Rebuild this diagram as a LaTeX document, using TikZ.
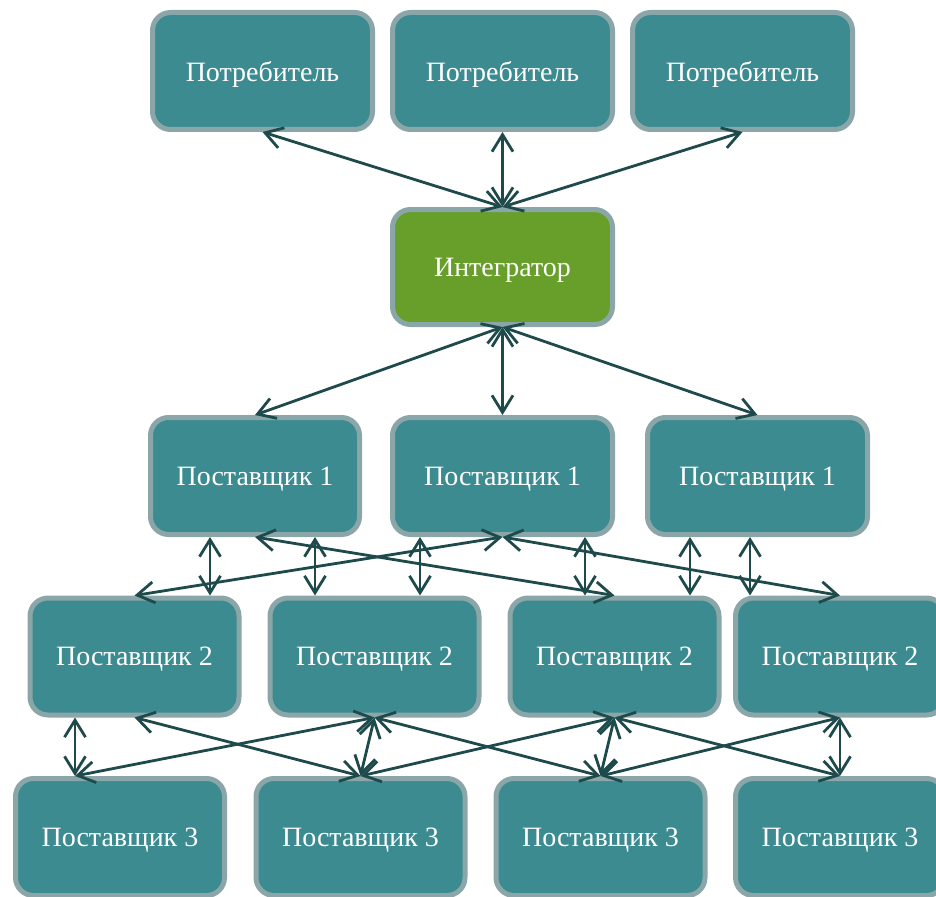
\documentclass[tikz,border=0pt]{standalone}
\usepackage{fontspec}
\setmainfont{Liberation Serif}
\usetikzlibrary{arrows.meta}
\definecolor{boxfill}{HTML}{3C8B91}
\definecolor{boxline}{HTML}{8AA6A8}
\definecolor{intfill}{HTML}{689F2B}
\definecolor{linkcol}{HTML}{1E4A4C}

\begin{document}
\begin{tikzpicture}[x=1pt, y=-1pt,
	box/.style={draw=boxline, fill=boxfill, line width=5pt, rounded corners=18pt,
		minimum height=117pt, text depth=0pt, text=white, font=\fontsize{28}{32}\selectfont},
	wide/.style={box, minimum width=220pt},
	narrow/.style={box, minimum width=209pt},
	link/.style={draw=linkcol, line width=2.8pt,
		{Straight Barb[length=17pt,width=21pt]}-{Straight Barb[length=17pt,width=21pt]}}]
 \useasboundingbox (0,0) rectangle (936,896);
 \clip (0,0) rectangle (936,896);

 \node[wide] (cons1) at (262.5,71) {Потребитель};
 \node[wide] (cons2) at (502.5,71) {Потребитель};
 \node[wide] (cons3) at (742.5,71) {Потребитель};

 \node[wide, fill=intfill, minimum height=115pt] (integ) at (502.5,267) {Интегратор};

 \node[narrow] (sup1a) at (255,476) {Поставщик 1};
 \node[wide] (sup1b) at (502.5,476) {Поставщик 1};
 \node[wide] (sup1c) at (757.5,476) {Поставщик 1};

 \node[narrow] (sup2a) at (134.5,656.5) {Поставщик 2};
 \node[narrow] (sup2b) at (374.5,656.5) {Поставщик 2};
 \node[narrow] (sup2c) at (614.5,656.5) {Поставщик 2};
 \node[narrow] (sup2d) at (840,656.5) {Поставщик 2};

 \node[narrow] (sup3a) at (120,837) {Поставщик 3};
 \node[narrow] (sup3b) at (360.5,837) {Поставщик 3};
 \node[narrow] (sup3c) at (600.5,837) {Поставщик 3};
 \node[narrow] (sup3d) at (840,837) {Поставщик 3};
 \coordinate (sup3a-top) at ([xshift=-45pt]sup3a.north);

 \foreach \a in {cons1,cons2,cons3}
	\draw[link] (\a.south) -- (integ.north);
 \foreach \a in {sup1a,sup1b,sup1c}
	\draw[link] (integ.south) -- (\a.north);

 \foreach \a/\b in {sup1a/sup2c, sup1b/sup2a, sup1b/sup2d}
	\draw[link] (\a.south) -- (\b.north);
 \foreach \x/\a/\b in {210/sup1a/sup2a, 315/sup1a/sup2b, 420/sup1b/sup2b,
	585/sup1b/sup2c, 690/sup1c/sup2c, 750/sup1c/sup2d}
	\draw[link] (\x,0 |- \a.south) -- (\x,0 |- \b.north);

 \draw[link] (sup2a.south -| sup3a-top) -- (sup3a-top);
 \draw[link] (sup2b.south) -- (sup3a-top);
 \foreach \a/\b in {sup2a/sup3b, sup2b/sup3b, sup2b/sup3c, sup2c/sup3b,
	sup2c/sup3c, sup2c/sup3d, sup2d/sup3c, sup2d/sup3d}
	\draw[link] (\a.south) -- (\b.north);
\end{tikzpicture}
\end{document}
